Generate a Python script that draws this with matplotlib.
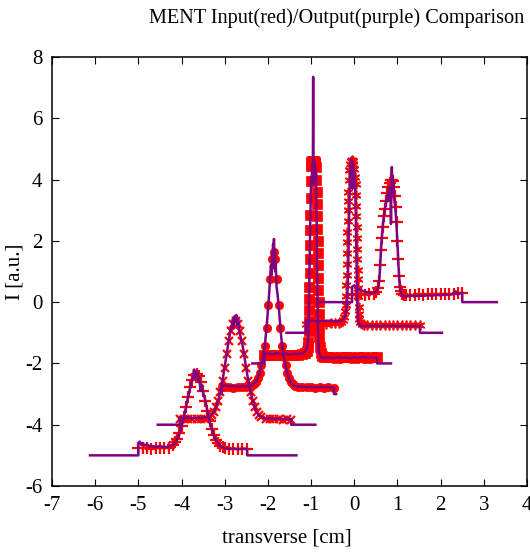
import matplotlib
matplotlib.use('Agg')
import matplotlib.pyplot as plt

# MENT input (red markers) and output (purple line), stacked profiles
# profile 0 (floor -5)
x0_in = [-5.0, -4.9, -4.8, -4.7, -4.6, -4.5, -4.4, -4.3, -4.2, -4.15, -4.1, -4.05, -4.0, -3.95, -3.9, -3.85, -3.8,
         -3.75, -3.7, -3.65, -3.6, -3.55, -3.5, -3.45, -3.4, -3.35, -3.3, -3.25, -3.2, -3.15, -3.1, -3.05, -3.0,
         -2.9, -2.8, -2.7, -2.6, -2.48]
y0_in = [-4.76, -4.77, -4.76, -4.78, -4.77, -4.76, -4.77, -4.75, -4.66, -4.57, -4.45, -4.27, -4.04, -3.75, -3.43,
         -3.09, -2.78, -2.53, -2.37, -2.33, -2.42, -2.62, -2.90, -3.23, -3.56, -3.87, -4.14, -4.35, -4.51, -4.61,
         -4.68, -4.72, -4.75, -4.78, -4.78, -4.79, -4.78, -4.79]
x0_out = [-6.12, -5.0, -5.0, -4.97, -4.93, -4.9, -4.85, -4.8, -4.75, -4.7, -4.6, -4.5, -4.4, -4.3, -4.2, -4.15, -4.1,
          -4.05, -4.0, -3.95, -3.9, -3.85, -3.8, -3.77, -3.74, -3.71, -3.69, -3.67, -3.65, -3.63, -3.61, -3.59,
          -3.56, -3.53, -3.5, -3.45, -3.4, -3.35, -3.3, -3.25, -3.2, -3.15, -3.1, -3.05, -3.0, -2.9, -2.8, -2.7,
          -2.6, -2.48, -2.48, -1.34]
y0_out = [-5.0, -5.0, -4.6, -4.55, -4.66, -4.6, -4.68, -4.64, -4.7, -4.69, -4.72, -4.7, -4.73, -4.72, -4.66, -4.6,
          -4.47, -4.3, -4.05, -3.78, -3.45, -3.1, -2.8, -2.62, -2.45, -2.2, -2.5, -2.25, -2.35, -2.3, -2.6, -2.45,
          -2.9, -2.7, -2.95, -3.2, -3.55, -3.9, -4.15, -4.36, -4.52, -4.62, -4.69, -4.74, -4.76, -4.79, -4.77,
          -4.8, -4.78, -4.79, -5.0, -5.0]

# profile 1 (floor -4)
x1_in = [-4.04, -3.95, -3.85, -3.75, -3.65, -3.55, -3.45, -3.35, -3.3, -3.25, -3.2, -3.15, -3.1, -3.05, -3.0, -2.95,
         -2.9, -2.85, -2.8, -2.75, -2.7, -2.65, -2.6, -2.55, -2.5, -2.45, -2.4, -2.35, -2.3, -2.25, -2.2, -2.15,
         -2.05, -1.95, -1.85, -1.75, -1.65, -1.55, -1.46]
y1_in = [-3.80, -3.81, -3.82, -3.81, -3.82, -3.81, -3.80, -3.74, -3.68, -3.58, -3.43, -3.21, -2.92, -2.56, -2.14,
         -1.70, -1.28, -0.93, -0.70, -0.62, -0.70, -0.93, -1.28, -1.70, -2.14, -2.56, -2.92, -3.21, -3.43, -3.58,
         -3.68, -3.74, -3.80, -3.82, -3.81, -3.82, -3.83, -3.82, -3.83]
x1_out = [-4.55, -4.04, -4.04, -3.95, -3.85, -3.75, -3.65, -3.55, -3.45, -3.35, -3.3, -3.25, -3.2, -3.15, -3.1,
          -3.05, -3.0, -2.95, -2.9, -2.87, -2.84, -2.81, -2.79, -2.77, -2.75, -2.73, -2.71, -2.69, -2.66, -2.63,
          -2.6, -2.55, -2.5, -2.45, -2.4, -2.35, -2.3, -2.25, -2.2, -2.15, -2.05, -1.95, -1.85, -1.75, -1.65,
          -1.55, -1.46, -1.46, -0.9]
y1_out = [-4.0, -4.0, -3.76, -3.78, -3.76, -3.79, -3.77, -3.78, -3.76, -3.72, -3.66, -3.57, -3.42, -3.2, -2.9,
          -2.55, -2.1, -1.65, -1.2, -0.95, -0.8, -0.55, -0.85, -0.45, -0.6, -0.42, -0.75, -0.55, -0.95, -1.15,
          -1.3, -1.72, -2.18, -2.6, -2.95, -3.22, -3.45, -3.6, -3.7, -3.75, -3.8, -3.79, -3.81, -3.8, -3.82,
          -3.81, -3.82, -4.0, -4.0]

# profile 2 (floor -3)
x2_in = [-3.07, -3.0, -2.9, -2.8, -2.7, -2.6, -2.5, -2.4, -2.32, -2.27, -2.23, -2.19, -2.15, -2.11, -2.07, -2.03,
         -1.99, -1.95, -1.91, -1.87, -1.83, -1.79, -1.75, -1.71, -1.67, -1.63, -1.59, -1.55, -1.51, -1.47, -1.42,
         -1.37, -1.3, -1.2, -1.1, -1.0, -0.9, -0.8, -0.7, -0.6, -0.47]
y2_in = [-2.78, -2.77, -2.78, -2.79, -2.78, -2.78, -2.77, -2.74, -2.68, -2.60, -2.48, -2.30, -2.06, -1.78, -1.43,
         -0.83, -0.09, 0.76, 1.41, 1.65, 1.41, 0.76, -0.09, -0.83, -1.43, -1.78, -2.06, -2.30, -2.48, -2.60,
         -2.68, -2.73, -2.76, -2.78, -2.77, -2.78, -2.79, -2.78, -2.79, -2.78, -2.79]
x2_out = [-3.07, -3.07, -3.0, -2.9, -2.8, -2.7, -2.6, -2.5, -2.4, -2.32, -2.27, -2.23, -2.19, -2.15, -2.11, -2.07,
          -2.03, -1.99, -1.97, -1.95, -1.93, -1.91, -1.9, -1.89, -1.88, -1.87, -1.86, -1.85, -1.84, -1.83, -1.82,
          -1.8, -1.78, -1.75, -1.71, -1.67, -1.63, -1.59, -1.55, -1.51, -1.47, -1.42, -1.37, -1.3, -1.2, -1.1,
          -1.0, -0.9, -0.8, -0.7, -0.6, -0.47, -0.47, -0.42]
y2_out = [-3.0, -2.74, -2.72, -2.75, -2.73, -2.76, -2.74, -2.75, -2.72, -2.66, -2.58, -2.46, -2.28, -2.04, -1.76,
          -1.4, -0.8, -0.1, 0.3, 0.75, 1.2, 0.9, 1.6, 1.1, 1.9, 1.4, 2.06, 1.3, 1.7, 1.0, 1.3, 0.5, 0.3, -0.12,
          -0.85, -1.45, -1.8, -2.08, -2.32, -2.5, -2.62, -2.7, -2.74, -2.76, -2.75, -2.78, -2.76, -2.79, -2.77,
          -2.78, -2.77, -2.79, -3.0, -3.0]

# profile 3 (floor -2)
x3_in = [-2.08, -2.0, -1.9, -1.8, -1.7, -1.6, -1.5, -1.4, -1.3, -1.2, -1.15, -1.1, -1.08, -1.065, -1.06, -1.055,
         -1.05, -1.045, -1.04, -1.035, -1.03, -1.025, -1.02, -1.015, -1.01, -1.005, -1.0, -0.995, -0.98, -0.96,
         -0.94, -0.92, -0.9, -0.88, -0.875, -0.87, -0.865, -0.86, -0.855, -0.85, -0.845, -0.84, -0.835, -0.83,
         -0.825, -0.82, -0.815, -0.81, -0.8, -0.78, -0.75, -0.7, -0.6, -0.5, -0.4, -0.3, -0.2, -0.1, 0.0, 0.1,
         0.2, 0.3, 0.4, 0.53]
y3_in = [-1.73, -1.72, -1.73, -1.72, -1.74, -1.73, -1.72, -1.73, -1.72, -1.7, -1.66, -1.58, -1.45, -1.3, -0.95,
         -0.6, -0.25, 0.1, 0.5, 0.95, 1.4, 1.85, 2.35, 2.85, 3.4, 3.95, 4.45, 4.58, 4.6, 4.62, 4.6, 4.58, 4.55,
         4.4, 4.0, 3.6, 3.2, 2.8, 2.4, 2.0, 1.6, 1.2, 0.8, 0.4, 0.0, -0.4, -0.8, -1.15, -1.45, -1.65, -1.75,
         -1.79, -1.8, -1.79, -1.81, -1.8, -1.79, -1.8, -1.81, -1.8, -1.79, -1.81, -1.8, -1.8]
x3_out = [-2.36, -2.08, -2.08, -2.0, -1.9, -1.8, -1.7, -1.6, -1.5, -1.4, -1.3, -1.2, -1.15, -1.1, -1.08, -1.065,
          -1.055, -1.045, -1.035, -1.025, -1.015, -1.005, -0.995, -0.985, -0.975, -0.965, -0.958, -0.952, -0.948,
          -0.942, -0.935, -0.925, -0.915, -0.905, -0.895, -0.885, -0.878, -0.872, -0.866, -0.86, -0.854, -0.848,
          -0.84, -0.83, -0.82, -0.8, -0.78, -0.75, -0.7, -0.6, -0.5, -0.4, -0.3, -0.2, -0.1, 0.0, 0.1, 0.2, 0.3,
          0.4, 0.53, 0.53, 0.85]
y3_out = [-2.0, -2.0, -1.7, -1.68, -1.71, -1.67, -1.7, -1.68, -1.71, -1.69, -1.7, -1.67, -1.62, -1.52, -1.35, -1.1,
          -0.5, 0.3, 1.2, 2.1, 2.9, 3.6, 4.1, 3.8, 4.5, 4.0, 4.6, 7.35, 4.3, 4.55, 3.9, 4.6, 3.85, 4.4, 3.95, 4.2,
          3.5, 2.8, 2.0, 1.2, 0.4, -0.3, -0.9, -1.4, -1.62, -1.74, -1.79, -1.8, -1.82, -1.81, -1.83, -1.8, -1.82,
          -1.81, -1.83, -1.8, -1.82, -1.79, -1.81, -1.8, -1.82, -2.0, -2.0]

# profile 4 (floor -1)
x4_in = [-1.12, -1.05, -0.95, -0.85, -0.75, -0.65, -0.55, -0.45, -0.35, -0.3, -0.26, -0.23, -0.21, -0.2, -0.19,
         -0.185, -0.18, -0.175, -0.17, -0.165, -0.16, -0.155, -0.15, -0.145, -0.14, -0.13, -0.12, -0.1, -0.08,
         -0.06, -0.04, -0.02, 0.0, 0.02, 0.03, 0.04, 0.045, 0.05, 0.055, 0.06, 0.065, 0.07, 0.075, 0.08, 0.085,
         0.09, 0.1, 0.11, 0.12, 0.14, 0.17, 0.22, 0.3, 0.4, 0.5, 0.6, 0.7, 0.8, 0.9, 1.0, 1.1, 1.2, 1.3, 1.4, 1.52]
y4_in = [-0.7, -0.69, -0.71, -0.7, -0.69, -0.7, -0.68, -0.69, -0.67, -0.64, -0.58, -0.48, -0.3, -0.1, 0.2, 0.55,
         0.9, 1.25, 1.6, 1.95, 2.3, 2.65, 3.0, 3.3, 3.6, 4.0, 4.3, 4.5, 4.62, 4.65, 4.6, 4.5, 4.35, 4.1, 3.85, 3.5,
         3.15, 2.8, 2.45, 2.1, 1.75, 1.4, 1.05, 0.75, 0.45, 0.2, -0.15, -0.4, -0.55, -0.66, -0.72, -0.74, -0.75,
         -0.74, -0.76, -0.75, -0.74, -0.75, -0.76, -0.74, -0.75, -0.74, -0.75, -0.74, -0.75]
x4_out = [-1.57, -1.12, -1.12, -1.05, -0.95, -0.85, -0.75, -0.65, -0.55, -0.45, -0.35, -0.3, -0.26, -0.23, -0.2,
          -0.18, -0.16, -0.15, -0.14, -0.13, -0.12, -0.11, -0.1, -0.09, -0.08, -0.07, -0.06, -0.05, -0.04, -0.03,
          -0.02, -0.01, 0.0, 0.01, 0.02, 0.03, 0.04, 0.05, 0.06, 0.07, 0.08, 0.09, 0.1, 0.12, 0.14, 0.17, 0.22,
          0.3, 0.4, 0.5, 0.6, 0.7, 0.8, 0.9, 1.0, 1.1, 1.2, 1.3, 1.4, 1.52, 1.52, 2.03]
y4_out = [-1.0, -1.0, -0.6, -0.62, -0.6, -0.63, -0.61, -0.62, -0.6, -0.63, -0.62, -0.6, -0.57, -0.5, -0.4, -0.2,
          0.2, 0.6, 1.2, 1.9, 2.7, 3.4, 4.1, 4.5, 4.0, 4.68, 4.2, 4.6, 3.7, 4.5, 4.1, 4.45, 3.9, 4.2, 3.8, 3.2,
          2.4, 1.5, 0.7, 0.0, -0.4, -0.6, -0.7, -0.76, -0.78, -0.76, -0.79, -0.77, -0.78, -0.76, -0.79, -0.77,
          -0.78, -0.76, -0.79, -0.78, -0.77, -0.79, -0.78, -0.77, -1.0, -1.0]

# profile 5 (floor 0)
x5_in = [-0.05, 0.05, 0.15, 0.25, 0.35, 0.45, 0.5, 0.55, 0.58, 0.6, 0.62, 0.64, 0.66, 0.68, 0.7, 0.73, 0.76, 0.79,
         0.82, 0.85, 0.88, 0.9, 0.92, 0.94, 0.96, 0.98, 1.0, 1.02, 1.04, 1.06, 1.08, 1.1, 1.14, 1.2, 1.3, 1.4, 1.5,
         1.6, 1.7, 1.8, 1.9, 2.0, 2.1, 2.2, 2.3, 2.4, 2.5]
y5_in = [0.25, 0.24, 0.25, 0.24, 0.26, 0.27, 0.32, 0.45, 0.7, 1.2, 1.7, 2.1, 2.45, 2.8, 3.05, 3.3, 3.55, 3.75, 3.9,
         3.98, 4.0, 3.95, 3.75, 3.45, 3.1, 2.6, 2.0, 1.4, 0.85, 0.5, 0.35, 0.28, 0.24, 0.23, 0.24, 0.23, 0.25,
         0.24, 0.25, 0.26, 0.25, 0.26, 0.27, 0.26, 0.28, 0.29, 0.3]
x5_out = [-0.85, -0.05, -0.05, 0.0, 0.03, 0.06, 0.1, 0.15, 0.2, 0.3, 0.4, 0.5, 0.55, 0.58, 0.6, 0.62, 0.64, 0.66,
          0.68, 0.7, 0.73, 0.76, 0.78, 0.8, 0.82, 0.84, 0.85, 0.86, 0.87, 0.88, 0.89, 0.9, 0.91, 0.92, 0.94, 0.96,
          0.98, 1.0, 1.02, 1.04, 1.06, 1.08, 1.1, 1.14, 1.2, 1.3, 1.4, 1.5, 1.6, 1.7, 1.8, 1.9, 2.0, 2.1, 2.2,
          2.3, 2.35, 2.4, 2.45, 2.5, 2.5, 3.3]
y5_out = [0.0, 0.0, 0.5, 0.55, 0.45, 0.52, 0.42, 0.4, 0.36, 0.32, 0.3, 0.33, 0.45, 0.72, 1.2, 1.75, 2.15, 2.5,
          2.75, 3.0, 3.2, 3.5, 3.3, 3.75, 3.6, 3.7, 2.55, 3.9, 4.41, 3.8, 4.1, 3.6, 3.85, 3.4, 3.2, 2.9, 2.45, 1.9,
          1.3, 0.8, 0.45, 0.3, 0.22, 0.2, 0.18, 0.21, 0.19, 0.22, 0.2, 0.23, 0.21, 0.24, 0.22, 0.25, 0.24, 0.27,
          0.35, 0.25, 0.3, 0.28, 0.0, 0.0]

x_ticks = [-7, -6, -5, -4, -3, -2, -1, 0, 1, 2, 3, 4]
y_ticks = [-6, -4, -2, 0, 2, 4, 6, 8]

inputs = [(x0_in, y0_in), (x1_in, y1_in), (x2_in, y2_in), (x3_in, y3_in), (x4_in, y4_in), (x5_in, y5_in)]
outputs = [(x0_out, y0_out), (x1_out, y1_out), (x2_out, y2_out), (x3_out, y3_out), (x4_out, y4_out),
           (x5_out, y5_out)]
# gnuplot-like point types for each input profile: (marker, size, edge width)
markers = [('+', 8, 1.6), ('x', 6, 1.6), ('o', 6, 0.5), ('s', 7, 0.5), ((6, 2, 0), 7, 1.2), ('+', 8, 1.6)]

plt.rcParams['font.family'] = ['Liberation Serif', 'DejaVu Serif']

fig = plt.figure(figsize=(5.3, 5.52), dpi=100)
ax = fig.add_axes([52 / 530, 66 / 552, 475 / 530, 429 / 552])

red = '#ff0000'
purple = '#800080'
for (xi, yi), (xo, yo), (m, ms, mew) in zip(inputs, outputs, markers):
    ax.plot(xi, yi, linestyle='none', marker=m, markersize=ms, markeredgewidth=mew,
            color=red, markerfacecolor=red, markeredgecolor=red, zorder=2)
    ax.plot(xo, yo, color=purple, linewidth=1.8, zorder=3)

ax.set_xlim(-7, 4)
ax.set_ylim(-6, 8)
ax.set_xticks(x_ticks)
ax.set_yticks(y_ticks)
ax.set_xticklabels([str(t) for t in x_ticks])
ax.set_yticklabels([str(t) for t in y_ticks])
ax.tick_params(direction='in', top=True, right=True, length=5, width=0.8, labelsize=15, pad=7)
for s in ax.spines.values():
    s.set_linewidth(1.1)

fig.text(337 / 530, 1 - 18 / 552, 'MENT Input(red)/Output(purple) Comparison', ha='center', va='center',
         fontsize=14.6)
fig.text(287 / 530, 1 - 538 / 552, 'transverse [cm]', ha='center', va='center', fontsize=15)
fig.text(15 / 530, 1 - 272 / 552, 'I [a.u.]', ha='center', va='center', rotation=90, fontsize=15)

fig.savefig('out.png', dpi=100)
